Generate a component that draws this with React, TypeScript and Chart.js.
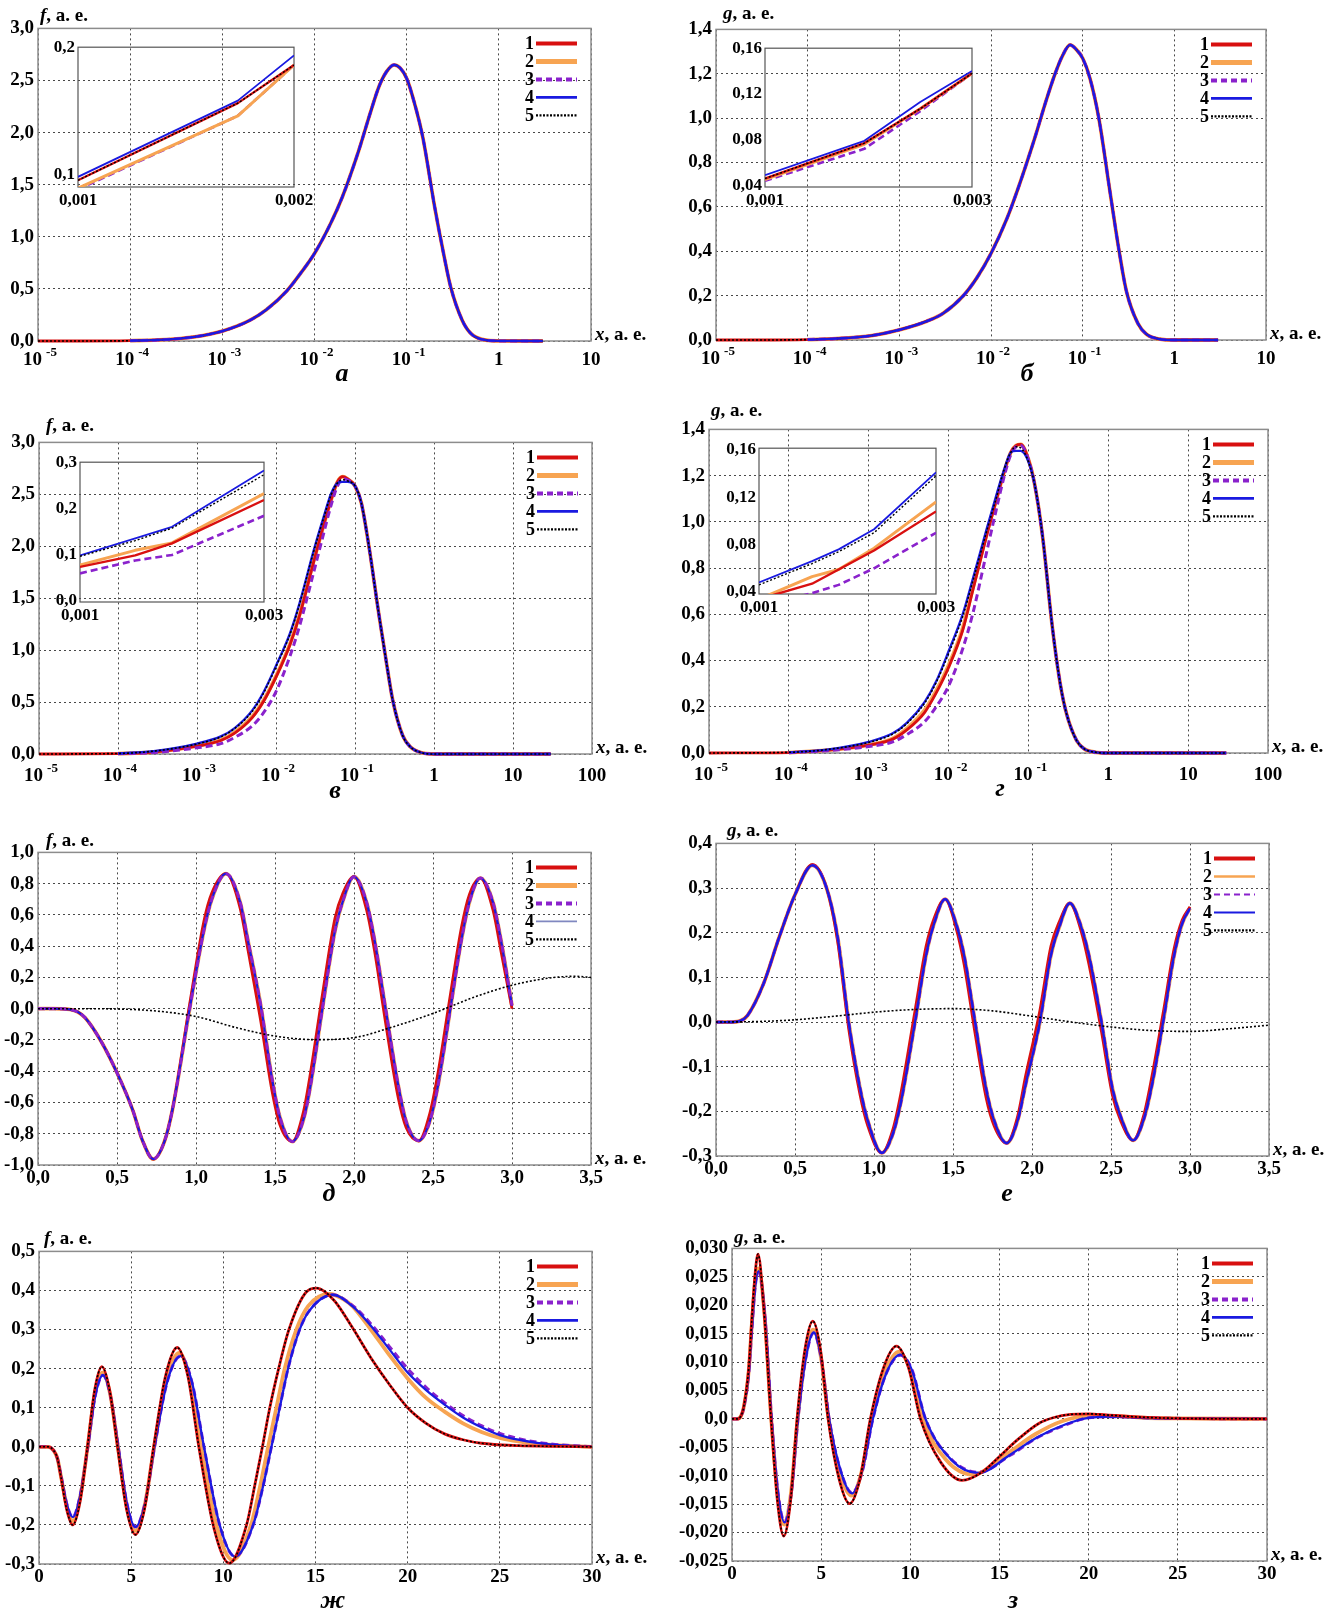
import React, { useEffect, useRef } from "react";
import { Chart, registerables } from "chart.js";
Chart.register(...registerables);

const FONT = '"Liberation Serif", "Times New Roman", serif';

// ================= DATA =================
// Panels а / б : log x, all five curves coincide in the main plot
const xAB = [1e-5, 3e-5, 1e-4, 2e-4, 5e-4, 1e-3, 2e-3, 3e-3, 5e-3, 7e-3, 1e-2, 1.5e-2, 2e-2, 3e-2, 4e-2, 5e-2, 6e-2, 7.3e-2, 8.5e-2, 0.1, 0.12, 0.15, 0.2, 0.25, 0.3, 0.4, 0.5, 0.7, 1, 3];
const fA = [0, 0, 0.003, 0.01, 0.04, 0.095, 0.2, 0.3, 0.48, 0.645, 0.84, 1.13, 1.38, 1.82, 2.18, 2.44, 2.58, 2.65, 2.62, 2.52, 2.3, 1.95, 1.3, 0.85, 0.52, 0.2, 0.07, 0.01, 0.001, 0];
const gB = [0, 0, 0.002, 0.006, 0.02, 0.046, 0.085, 0.12, 0.2, 0.28, 0.39, 0.55, 0.69, 0.91, 1.08, 1.2, 1.28, 1.33, 1.31, 1.27, 1.18, 1.0, 0.66, 0.4, 0.22, 0.075, 0.025, 0.004, 0, 0];

// Insets а / б
const xInA = [0.001, 0.00174, 0.002];
const fInA1 = [0.0953, 0.156, 0.186];
const fInA2 = [0.089, 0.146, 0.186];
const fInA3 = [0.088, 0.146, 0.186];
const fInA4 = [0.098, 0.158, 0.1935];
const fInA5 = [0.0953, 0.156, 0.186];
const xInB = [0.001, 0.00196, 0.0025, 0.003];
const gInB1 = [0.046, 0.077, 0.107, 0.138];
const gInB2 = [0.045, 0.076, 0.107, 0.138];
const gInB3 = [0.044, 0.072, 0.105, 0.138];
const gInB4 = [0.049, 0.079, 0.113, 0.14];
const gInB5 = [0.046, 0.077, 0.107, 0.138];

// Panels в / г : log x
const xCD = [1e-5, 1e-4, 3e-4, 1e-3, 2e-3, 3e-3, 5e-3, 7e-3, 1e-2, 1.5e-2, 2e-2, 3e-2, 4e-2, 5e-2, 6e-2, 7e-2, 8e-2, 0.1, 0.12, 0.15, 0.2, 0.25, 0.3, 0.4, 0.5, 0.7, 1, 3, 10, 30];
const fC1 = [0, 0.003, 0.02, 0.075, 0.13, 0.2, 0.35, 0.51, 0.74, 1.05, 1.34, 1.85, 2.2, 2.45, 2.62, 2.67, 2.65, 2.58, 2.42, 2.0, 1.35, 0.88, 0.52, 0.18, 0.07, 0.012, 0, 0, 0, 0];
const fC2 = [0, 0.003, 0.02, 0.078, 0.135, 0.21, 0.36, 0.52, 0.75, 1.06, 1.35, 1.86, 2.2, 2.45, 2.62, 2.67, 2.65, 2.58, 2.42, 2.0, 1.35, 0.88, 0.52, 0.18, 0.07, 0.012, 0, 0, 0, 0];
const fC3 = [0, 0.002, 0.015, 0.06, 0.1, 0.16, 0.27, 0.4, 0.6, 0.94, 1.24, 1.75, 2.12, 2.4, 2.58, 2.65, 2.64, 2.58, 2.42, 2.0, 1.35, 0.88, 0.52, 0.18, 0.07, 0.012, 0, 0, 0, 0];
const fC4 = [0, 0.005, 0.03, 0.1, 0.17, 0.25, 0.42, 0.6, 0.85, 1.16, 1.46, 1.96, 2.28, 2.51, 2.61, 2.62, 2.62, 2.58, 2.42, 2.0, 1.35, 0.88, 0.52, 0.18, 0.07, 0.012, 0, 0, 0, 0];
const fC5 = [0, 0.005, 0.03, 0.096, 0.165, 0.245, 0.41, 0.59, 0.84, 1.15, 1.45, 1.95, 2.27, 2.5, 2.61, 2.64, 2.63, 2.58, 2.42, 2.0, 1.35, 0.88, 0.52, 0.18, 0.07, 0.012, 0, 0, 0, 0];
const gD1 = [0, 0.002, 0.012, 0.034, 0.06, 0.1, 0.175, 0.26, 0.37, 0.53, 0.7, 0.94, 1.1, 1.22, 1.3, 1.33, 1.335, 1.27, 1.16, 0.94, 0.54, 0.3, 0.17, 0.055, 0.018, 0.003, 0, 0, 0, 0];
const gD2 = [0, 0.002, 0.012, 0.035, 0.063, 0.106, 0.185, 0.27, 0.38, 0.54, 0.71, 0.95, 1.1, 1.22, 1.3, 1.33, 1.335, 1.27, 1.16, 0.94, 0.54, 0.3, 0.17, 0.055, 0.018, 0.003, 0, 0, 0, 0];
const gD3 = [0, 0.0015, 0.01, 0.028, 0.048, 0.08, 0.135, 0.2, 0.29, 0.45, 0.6, 0.87, 1.06, 1.2, 1.29, 1.325, 1.33, 1.27, 1.16, 0.94, 0.54, 0.3, 0.17, 0.055, 0.018, 0.003, 0, 0, 0, 0];
const gD4 = [0, 0.003, 0.015, 0.048, 0.085, 0.13, 0.22, 0.31, 0.44, 0.6, 0.75, 0.97, 1.12, 1.23, 1.3, 1.307, 1.307, 1.26, 1.16, 0.94, 0.54, 0.3, 0.17, 0.055, 0.018, 0.003, 0, 0, 0, 0];
const gD5 = [0, 0.003, 0.015, 0.046, 0.082, 0.127, 0.215, 0.305, 0.43, 0.59, 0.74, 0.96, 1.11, 1.23, 1.3, 1.325, 1.32, 1.26, 1.16, 0.94, 0.54, 0.3, 0.17, 0.055, 0.018, 0.003, 0, 0, 0, 0];

// Insets в / г
const xInC = [0.001, 0.0016, 0.002, 0.003];
const fInC1 = [0.073, 0.098, 0.124, 0.218];
const fInC2 = [0.077, 0.109, 0.125, 0.232];
const fInC3 = [0.059, 0.087, 0.099, 0.184];
const fInC4 = [0.098, 0.135, 0.16, 0.282];
const fInC5 = [0.096, 0.13, 0.157, 0.273];
const xInD = [0.001, 0.0016, 0.0019, 0.0023, 0.003];
const gInD1 = [0.034, 0.047, 0.059, 0.075, 0.108];
const gInD2 = [0.034, 0.053, 0.059, 0.077, 0.116];
const gInD3 = [0.028, 0.039, 0.046, 0.06, 0.09];
const gInD4 = [0.048, 0.066, 0.076, 0.093, 0.141];
const gInD5 = [0.046, 0.064, 0.074, 0.09, 0.138];

// Panel д
const xE = [0, 0.1, 0.2, 0.25, 0.3, 0.4, 0.5, 0.6, 0.66, 0.73, 0.8, 0.85, 0.96, 1.05, 1.1, 1.19, 1.28, 1.33, 1.41, 1.48, 1.53, 1.61, 1.68, 1.72, 1.8, 1.88, 1.93, 2.0, 2.08, 2.13, 2.2, 2.28, 2.33, 2.41, 2.48, 2.53, 2.61, 2.68, 2.73, 2.8, 2.88, 2.93, 3.0];
const fE4 = [0, 0, -0.005, -0.02, -0.06, -0.21, -0.41, -0.65, -0.84, -0.962, -0.85, -0.65, 0, 0.5, 0.7, 0.864, 0.68, 0.43, 0.02, -0.44, -0.69, -0.85, -0.71, -0.52, 0, 0.5, 0.69, 0.845, 0.68, 0.44, 0, -0.49, -0.72, -0.845, -0.72, -0.5, 0, 0.44, 0.68, 0.836, 0.68, 0.44, 0.02];
const fE1 = [0, 0, -0.005, -0.02, -0.06, -0.21, -0.41, -0.65, -0.84, -0.962, -0.85, -0.65, 0.03, 0.56, 0.74, 0.864, 0.64, 0.37, -0.08, -0.52, -0.74, -0.85, -0.66, -0.44, 0.09, 0.58, 0.74, 0.845, 0.63, 0.37, -0.09, -0.57, -0.76, -0.845, -0.67, -0.42, 0.09, 0.52, 0.73, 0.836, 0.63, 0.37, 0.0];
const xE5 = [0, 0.25, 0.5, 0.75, 1.0, 1.25, 1.5, 1.75, 2.0, 2.25, 2.5, 2.75, 3.0, 3.25, 3.4, 3.5];
const fE5 = [0, 0, -0.002, -0.015, -0.05, -0.12, -0.175, -0.198, -0.185, -0.115, -0.03, 0.07, 0.15, 0.198, 0.207, 0.2];

// Panel е
const xF = [0, 0.1, 0.15, 0.2, 0.3, 0.4, 0.5, 0.61, 0.7, 0.77, 0.84, 0.91, 0.96, 1.05, 1.12, 1.17, 1.26, 1.33, 1.38, 1.45, 1.52, 1.57, 1.64, 1.71, 1.76, 1.84, 1.91, 1.96, 2.05, 2.12, 2.17, 2.24, 2.31, 2.36, 2.44, 2.51, 2.56, 2.64, 2.71, 2.76, 2.83, 2.9, 2.95, 3.0];
const gF4 = [0, 0, 0.002, 0.015, 0.085, 0.19, 0.285, 0.351, 0.3, 0.19, 0, -0.145, -0.22, -0.293, -0.25, -0.18, 0, 0.15, 0.22, 0.275, 0.22, 0.15, 0, -0.15, -0.22, -0.271, -0.22, -0.14, 0, 0.15, 0.21, 0.266, 0.215, 0.15, 0, -0.15, -0.21, -0.265, -0.215, -0.14, 0, 0.15, 0.22, 0.255];
const gF1 = [0, 0, 0.002, 0.015, 0.085, 0.19, 0.285, 0.353, 0.3, 0.18, -0.015, -0.16, -0.232, -0.293, -0.24, -0.16, 0.026, 0.17, 0.232, 0.275, 0.21, 0.13, -0.026, -0.17, -0.232, -0.271, -0.21, -0.12, 0.026, 0.17, 0.222, 0.266, 0.205, 0.13, -0.022, -0.165, -0.22, -0.265, -0.205, -0.12, 0.02, 0.165, 0.228, 0.258];
const xF5 = [0, 0.25, 0.5, 0.75, 1.0, 1.25, 1.5, 1.75, 2.0, 2.25, 2.5, 2.75, 3.0, 3.25, 3.5];
const gF5 = [0, 0.001, 0.005, 0.013, 0.022, 0.028, 0.03, 0.025, 0.013, 0, -0.011, -0.019, -0.021, -0.015, -0.007];

// Panel ж
const xG1 = [0, 0.5, 0.8, 1.0, 1.2, 1.5, 1.83, 2.23, 2.63, 3.02, 3.41, 3.83, 4.26, 4.75, 5.23, 5.72, 6.22, 6.86, 7.5, 8.08, 8.67, 9.5, 10.32, 11.26, 11.7, 12.12, 12.52, 13.0, 13.56, 14.5, 15.07, 16, 17, 18, 19, 20, 21, 22, 23, 24, 26, 28, 30];
const fG1 = [0, 0, -0.01, -0.03, -0.08, -0.16, -0.2, -0.14, 0, 0.145, 0.205, 0.145, 0, -0.16, -0.225, -0.16, 0, 0.18, 0.254, 0.18, 0, -0.21, -0.298, -0.2, -0.1, 0, 0.1, 0.2, 0.3, 0.396, 0.406, 0.375, 0.305, 0.228, 0.16, 0.1, 0.06, 0.033, 0.018, 0.009, 0.003, 0.001, 0];
const xG2 = [0, 0.5, 0.8, 1.0, 1.2, 1.5, 1.83, 2.23, 2.64, 3.03, 3.44, 3.86, 4.28, 4.75, 5.23, 5.73, 6.25, 6.9, 7.6, 8.2, 8.8, 9.65, 10.5, 11.5, 12.0, 12.43, 12.88, 13.33, 13.96, 14.6, 15.76, 16.5, 17, 18, 19, 20, 21, 22, 23, 24, 25, 26, 28, 30];
const fG2 = [0, 0, -0.01, -0.03, -0.078, -0.15, -0.19, -0.13, 0, 0.135, 0.19, 0.135, 0, -0.15, -0.215, -0.15, 0, 0.17, 0.24, 0.17, 0, -0.205, -0.29, -0.2, -0.1, 0, 0.1, 0.2, 0.3, 0.36, 0.391, 0.378, 0.36, 0.3, 0.235, 0.175, 0.125, 0.09, 0.06, 0.038, 0.023, 0.014, 0.004, 0];
const xG4 = [0, 0.5, 0.8, 1.0, 1.2, 1.5, 1.83, 2.23, 2.65, 3.05, 3.47, 3.88, 4.3, 4.77, 5.23, 5.75, 6.27, 6.95, 7.68, 8.3, 8.95, 9.8, 10.63, 11.62, 12.16, 12.61, 13.06, 13.51, 14.14, 14.68, 15.94, 17, 18, 19, 20, 21, 22, 23, 24, 25, 26, 27, 28, 30];
const fG4 = [0, 0, -0.01, -0.03, -0.075, -0.145, -0.18, -0.125, 0, 0.13, 0.183, 0.13, 0, -0.145, -0.205, -0.145, 0, 0.165, 0.232, 0.165, 0, -0.2, -0.281, -0.2, -0.1, 0, 0.1, 0.2, 0.3, 0.349, 0.389, 0.36, 0.31, 0.25, 0.19, 0.145, 0.108, 0.075, 0.05, 0.03, 0.018, 0.01, 0.005, 0];
const fG3 = [0, 0, -0.01, -0.03, -0.075, -0.145, -0.18, -0.125, 0, 0.13, 0.183, 0.13, 0, -0.145, -0.205, -0.145, 0, 0.165, 0.232, 0.165, 0, -0.2, -0.281, -0.2, -0.1, 0, 0.1, 0.2, 0.3, 0.349, 0.389, 0.362, 0.315, 0.257, 0.2, 0.152, 0.113, 0.08, 0.054, 0.034, 0.021, 0.012, 0.006, 0];

// Panel з
const xH1 = [0, 0.3, 0.5, 0.65, 0.94, 1.12, 1.31, 1.46, 1.78, 2.19, 2.55, 2.9, 3.28, 3.65, 4.09, 4.53, 4.96, 5.39, 6.0, 6.6, 7.18, 7.76, 8.5, 9.22, 9.9, 10.57, 11.7, 12.9, 14.0, 15.0, 16.0, 17.2, 18.0, 19.0, 20.0, 21.0, 23.0, 25.0, 30.0];
const gH1 = [0, 0, 0.0005, 0.002, 0.009, 0.018, 0.026, 0.029, 0.0196, 0, -0.0145, -0.0206, -0.0145, 0, 0.0122, 0.0172, 0.0122, 0, -0.0105, -0.0149, -0.0105, 0, 0.009, 0.0128, 0.009, 0, -0.0076, -0.0108, -0.0094, -0.0066, -0.0037, -0.0008, 0.0002, 0.0008, 0.0009, 0.0007, 0.0003, 0.0001, 0];
const xH2 = [0, 0.3, 0.5, 0.65, 0.94, 1.12, 1.31, 1.48, 1.82, 2.2, 2.56, 2.93, 3.3, 3.68, 4.12, 4.55, 4.98, 5.42, 6.05, 6.7, 7.25, 7.83, 8.58, 9.35, 10.0, 10.7, 12.0, 13.5, 15.3, 17.0, 18.5, 20, 21.5, 23, 25, 30];
const gH2 = [0, 0, 0.0005, 0.0019, 0.0085, 0.017, 0.0245, 0.0265, 0.0185, 0, -0.0132, -0.0186, -0.0132, 0, 0.011, 0.0157, 0.011, 0, -0.0095, -0.0135, -0.0095, 0, 0.0083, 0.0118, 0.0085, 0, -0.0072, -0.0098, -0.0064, -0.0027, -0.0004, 0.0005, 0.0005, 0.0002, 0.0001, 0];
const xH4 = [0, 0.3, 0.5, 0.65, 0.94, 1.12, 1.31, 1.5, 1.85, 2.22, 2.58, 2.95, 3.33, 3.7, 4.14, 4.58, 5.0, 5.45, 6.1, 6.73, 7.3, 7.9, 8.65, 9.44, 10.1, 10.85, 12.3, 13.84, 15.6, 17.07, 18.75, 20, 21.5, 23, 25, 30];
const gH4 = [0, 0, 0.0005, 0.0018, 0.008, 0.016, 0.0235, 0.026, 0.018, 0, -0.013, -0.0182, -0.013, 0, 0.0107, 0.0152, 0.0107, 0, -0.0092, -0.0131, -0.0092, 0, 0.008, 0.0113, 0.0085, 0, -0.0072, -0.0095, -0.0063, -0.0033, -0.0009, 0.0002, 0.0004, 0.0002, 0.0001, 0];
const gH3 = [0, 0, 0.0005, 0.0018, 0.008, 0.016, 0.0235, 0.0258, 0.018, 0, -0.013, -0.0181, -0.013, 0, 0.0107, 0.0151, 0.0107, 0, -0.0092, -0.013, -0.0093, 0, 0.008, 0.0112, 0.0086, 0, -0.0071, -0.0094, -0.0064, -0.0034, -0.001, 0.0002, 0.0004, 0.0002, 0.0001, 0];

// Tick values
const XT_LOG6 = [1e-5, 1e-4, 1e-3, 1e-2, 1e-1, 1, 10];
const XT_LOG7 = [1e-5, 1e-4, 1e-3, 1e-2, 1e-1, 1, 10, 100];
const XT_E = [0, 0.5, 1, 1.5, 2, 2.5, 3, 3.5];
const XT_G = [0, 5, 10, 15, 20, 25, 30];
const YT_A = [0, 0.5, 1, 1.5, 2, 2.5, 3];
const YT_B = [0, 0.2, 0.4, 0.6, 0.8, 1, 1.2, 1.4];
const YT_D = [-1, -0.8, -0.6, -0.4, -0.2, 0, 0.2, 0.4, 0.6, 0.8, 1];
const YT_E = [-0.3, -0.2, -0.1, 0, 0.1, 0.2, 0.3, 0.4];
const YT_G = [-0.3, -0.2, -0.1, 0, 0.1, 0.2, 0.3, 0.4, 0.5];
const YT_H = [-0.025, -0.02, -0.015, -0.01, -0.005, 0, 0.005, 0.01, 0.015, 0.02, 0.025, 0.03];
const XT_IN_A = [0.001, 0.002];
const XT_IN = [0.001, 0.003];
const YT_IN_A = [0.1, 0.2];
const YT_IN_B = [0.04, 0.08, 0.12, 0.16];
const YT_IN_C = [0, 0.1, 0.2, 0.3];

// ================= STYLE =================
const COLORS: Record<number, string> = { 1: "#d81010", 2: "#f7a452", 3: "#8a22cc", 4: "#1a1ae0", 5: "#000000" };
const MAIN_W: Record<number, number> = { 1: 2.8, 2: 3.8, 3: 3, 4: 2.3, 5: 1.6 };
const INSET_W: Record<number, number> = { 1: 2.4, 2: 3, 3: 2.6, 4: 1.8, 5: 1.4 };
const DASH: Record<number, number[]> = { 1: [], 2: [], 3: [7, 4], 4: [], 5: [2, 2] };
const LEG_W: Record<number, number> = { 1: 4, 2: 5, 3: 4, 4: 2.6, 5: 2.2 };

const fmt = (d: number) => (v: number) => {
  if (Math.abs(v) < 1e-12) return d >= 3 ? "0,0" : (0).toFixed(d).replace(".", ",");
  return v.toFixed(d).replace(".", ",");
};

type Ser = { k: number; x: number[]; y: number[] };
type Spec = {
  l: number; t: number; r: number; b: number;
  log: boolean; xMin: number; xMax: number; xTicks: number[]; xFmt: (v: number) => string;
  yMin: number; yMax: number; yTicks: number[]; yFmt: (v: number) => string;
  series: Ser[]; inset: boolean; logDy?: number;
  legendOver?: Record<number, { color: string; w: number }>;
};

const PAD_MAIN = { L: 80, T: 14, R: 30, B: 36 };
const PAD_INSET = { L: 50, T: 12, R: 26, B: 28 };

function buildConfig(s: Spec): any {
  const P = s.inset ? PAD_INSET : PAD_MAIN;
  const W = s.inset ? INSET_W : MAIN_W;
  const datasets = s.series.map((se) => ({
    data: se.x.map((xv, i) => ({ x: xv, y: se.y[i] })),
    borderColor: COLORS[se.k],
    borderWidth: W[se.k],
    borderDash: DASH[se.k],
    borderJoinStyle: "round",
    pointRadius: 0,
    fill: false,
    tension: 0,
    cubicInterpolationMode: s.inset ? "default" : "monotone",
    clip: s.inset ? 0 : 3,
  }));
  const tickFont = { family: FONT, size: s.inset ? 17 : 19, weight: "bold" as const };
  const deco = {
    id: "deco",
    beforeDatasetsDraw(chart: any) {
      const { ctx, chartArea: a } = chart;
      ctx.save();
      ctx.setLineDash([]);
      ctx.strokeStyle = s.inset ? "#555" : "#8c8c8c";
      ctx.lineWidth = s.inset ? 1.2 : 1.5;
      ctx.strokeRect(a.left, a.top, a.right - a.left, a.bottom - a.top);
      ctx.restore();
    },
    afterDraw(chart: any) {
      const { ctx, chartArea: a, scales } = chart;
      ctx.save();
      ctx.fillStyle = "#000";
      if (s.log) {
        const base = a.bottom + (s.logDy ?? 24);
        for (const v of s.xTicks) {
          const px = scales.x.getPixelForValue(v);
          const e = Math.round(Math.log10(v));
          if (e < 0) {
            ctx.font = `bold 19px ${FONT}`;
            const w1 = ctx.measureText("10").width;
            ctx.font = `bold 13px ${FONT}`;
            const es = String(e);
            const w2 = ctx.measureText(es).width;
            const x0 = px - (w1 + 4 + w2) / 2 + 2;
            ctx.textAlign = "left";
            ctx.textBaseline = "alphabetic";
            ctx.font = `bold 19px ${FONT}`;
            ctx.fillText("10", x0, base);
            ctx.font = `bold 13px ${FONT}`;
            ctx.fillText(es, x0 + w1 + 4, base - 9);
          } else {
            ctx.font = `bold 19px ${FONT}`;
            ctx.textAlign = "center";
            ctx.textBaseline = "alphabetic";
            ctx.fillText(String(v), px, base);
          }
        }
      }
      if (!s.inset) {
        for (let k = 1; k <= 5; k++) {
          const y = a.top + 15 + (k - 1) * 18;
          ctx.font = `bold 18px ${FONT}`;
          ctx.textAlign = "right";
          ctx.textBaseline = "middle";
          ctx.fillStyle = "#000";
          ctx.fillText(String(k), a.right - 57, y + 1);
          const ov = s.legendOver && s.legendOver[k];
          ctx.beginPath();
          ctx.strokeStyle = ov ? ov.color : COLORS[k];
          ctx.lineWidth = ov ? ov.w : LEG_W[k];
          ctx.setLineDash(k === 3 ? [6, 4] : k === 5 ? [2, 1.5] : []);
          ctx.moveTo(a.right - 55, y);
          ctx.lineTo(a.right - 14, y);
          ctx.stroke();
        }
      }
      ctx.restore();
    },
  };
  return {
    type: "line",
    data: { datasets },
    options: {
      responsive: false,
      animation: false,
      events: [],
      layout: { padding: { top: P.T, right: P.R, left: 0, bottom: 0 } },
      plugins: { legend: { display: false }, tooltip: { enabled: false }, title: { display: false } },
      scales: {
        x: {
          type: s.log ? "logarithmic" : "linear",
          min: s.xMin,
          max: s.xMax,
          afterFit: (sc: any) => { sc.height = P.B; },
          afterBuildTicks: (sc: any) => { sc.ticks = s.xTicks.map((v) => ({ value: v })); },
          grid: { display: !s.inset, drawTicks: false, color: "rgba(40,40,40,0.85)", lineWidth: 1 },
          border: { display: false, dash: [2, 3] },
          ticks: {
            display: !s.log,
            padding: s.inset ? 3 : 2,
            autoSkip: false,
            maxRotation: 0,
            color: "#000",
            font: tickFont,
            callback: (v: any) => s.xFmt(Number(v)),
          },
        },
        y: {
          type: "linear",
          min: s.yMin,
          max: s.yMax,
          afterFit: (sc: any) => { sc.width = P.L; },
          afterBuildTicks: (sc: any) => { sc.ticks = s.yTicks.map((v) => ({ value: v })); },
          grid: { display: !s.inset, drawTicks: false, color: "rgba(40,40,40,0.85)", lineWidth: 1 },
          border: { display: false, dash: [2, 3] },
          ticks: {
            padding: s.inset ? 3 : 4,
            autoSkip: false,
            color: "#000",
            font: tickFont,
            callback: (v: any) => s.yFmt(Number(v)),
          },
        },
      },
    },
    plugins: [deco],
  };
}

function ChartBox({ s }: { s: Spec }) {
  const ref = useRef<HTMLCanvasElement>(null);
  const P = s.inset ? PAD_INSET : PAD_MAIN;
  const w = s.r - s.l + P.L + P.R;
  const h = s.b - s.t + P.T + P.B;
  useEffect(() => {
    const c = new Chart(ref.current as HTMLCanvasElement, buildConfig(s));
    return () => c.destroy();
  }, []);
  return (
    <canvas
      ref={ref}
      width={w}
      height={h}
      style={{ position: "absolute", left: s.l - P.L, top: s.t - P.T, width: w, height: h }}
    />
  );
}

// ================= PANELS =================
const cut = (a: number[], n: number) => a.slice(n);

const panels: { s: Spec; yName: string; tx: number; ty: number; letter: string; lx: number; ly: number }[] = [
  {
    s: {
      l: 38, t: 27, r: 591, b: 341, log: true, xMin: 1e-5, xMax: 10, xTicks: XT_LOG6, xFmt: String,
      yMin: 0, yMax: 3, yTicks: YT_A, yFmt: fmt(1), inset: false, logDy: 24,
      series: [
        { k: 4, x: cut(xAB, 2), y: cut(fA, 2) },
        { k: 3, x: cut(xAB, 2), y: cut(fA, 2) },
        { k: 5, x: xAB, y: fA },
        { k: 1, x: xAB, y: fA },
        { k: 2, x: cut(xAB, 2), y: cut(fA, 2) },
      ],
    },
    yName: "f", tx: 40, ty: 15, letter: "а", lx: 342, ly: 373,
  },
  {
    s: {
      l: 716, t: 28, r: 1266, b: 340, log: true, xMin: 1e-5, xMax: 10, xTicks: XT_LOG6, xFmt: String,
      yMin: 0, yMax: 1.4, yTicks: YT_B, yFmt: fmt(1), inset: false, logDy: 24,
      series: [
        { k: 4, x: cut(xAB, 2), y: cut(gB, 2) },
        { k: 3, x: cut(xAB, 2), y: cut(gB, 2) },
        { k: 5, x: xAB, y: gB },
        { k: 1, x: xAB, y: gB },
        { k: 2, x: cut(xAB, 2), y: cut(gB, 2) },
      ],
    },
    yName: "g", tx: 723, ty: 13, letter: "б", lx: 1027, ly: 373,
  },
  {
    s: {
      l: 39, t: 441, r: 592, b: 754, log: true, xMin: 1e-5, xMax: 100, xTicks: XT_LOG7, xFmt: String,
      yMin: 0, yMax: 3, yTicks: YT_A, yFmt: fmt(1), inset: false, logDy: 27,
      series: [
        { k: 5, x: xCD, y: fC5 },
        { k: 4, x: cut(xCD, 1), y: cut(fC4, 1) },
        { k: 3, x: cut(xCD, 1), y: cut(fC3, 1) },
        { k: 1, x: xCD, y: fC1 },
        { k: 2, x: cut(xCD, 1), y: cut(fC2, 1) },
      ],
    },
    yName: "f", tx: 46, ty: 425, letter: "в", lx: 335, ly: 790,
  },
  {
    s: {
      l: 709, t: 428, r: 1268, b: 753, log: true, xMin: 1e-5, xMax: 100, xTicks: XT_LOG7, xFmt: String,
      yMin: 0, yMax: 1.4, yTicks: YT_B, yFmt: fmt(1), inset: false, logDy: 27,
      series: [
        { k: 5, x: xCD, y: gD5 },
        { k: 4, x: cut(xCD, 1), y: cut(gD4, 1) },
        { k: 3, x: cut(xCD, 1), y: cut(gD3, 1) },
        { k: 1, x: xCD, y: gD1 },
        { k: 2, x: cut(xCD, 1), y: cut(gD2, 1) },
      ],
    },
    yName: "g", tx: 711, ty: 410, letter: "г", lx: 1000, ly: 788,
  },
  {
    s: {
      l: 38, t: 851, r: 591, b: 1165, log: false, xMin: 0, xMax: 3.5, xTicks: XT_E, xFmt: fmt(1),
      yMin: -1, yMax: 1, yTicks: YT_D, yFmt: fmt(1), inset: false,
      legendOver: { 4: { color: "#8088c0", w: 1.6 } },
      series: [
        { k: 5, x: xE5, y: fE5 },
        { k: 3, x: xE, y: fE4 },
        { k: 4, x: xE, y: fE4 },
        { k: 1, x: xE, y: fE1 },
        { k: 2, x: xE, y: fE4 },
      ],
    },
    yName: "f", tx: 46, ty: 840, letter: "д", lx: 329, ly: 1193,
  },
  {
    s: {
      l: 716, t: 842, r: 1269, b: 1156, log: false, xMin: 0, xMax: 3.5, xTicks: XT_E, xFmt: fmt(1),
      yMin: -0.3, yMax: 0.4, yTicks: YT_E, yFmt: fmt(1), inset: false,
      legendOver: { 2: { color: COLORS[2], w: 2.5 }, 3: { color: COLORS[3], w: 2 }, 4: { color: COLORS[4], w: 2 } },
      series: [
        { k: 5, x: xF5, y: gF5 },
        { k: 4, x: xF, y: gF4 },
        { k: 3, x: xF, y: gF4 },
        { k: 1, x: xF, y: gF1 },
        { k: 2, x: xF, y: gF4 },
      ],
    },
    yName: "g", tx: 727, ty: 830, letter: "е", lx: 1007, ly: 1193,
  },
  {
    s: {
      l: 39, t: 1250, r: 592, b: 1564, log: false, xMin: 0, xMax: 30, xTicks: XT_G, xFmt: fmt(0),
      yMin: -0.3, yMax: 0.5, yTicks: YT_G, yFmt: fmt(1), inset: false,
      series: [
        { k: 5, x: xG1, y: fG1 },
        { k: 1, x: xG1, y: fG1 },
        { k: 4, x: xG4, y: fG4 },
        { k: 3, x: xG4, y: fG3 },
        { k: 2, x: xG2, y: fG2 },
      ],
    },
    yName: "f", tx: 44, ty: 1238, letter: "ж", lx: 333, ly: 1600,
  },
  {
    s: {
      l: 732, t: 1247, r: 1267, b: 1561, log: false, xMin: 0, xMax: 30, xTicks: XT_G, xFmt: fmt(0),
      yMin: -0.025, yMax: 0.03, yTicks: YT_H, yFmt: fmt(3), inset: false,
      series: [
        { k: 5, x: xH1, y: gH1 },
        { k: 1, x: xH1, y: gH1 },
        { k: 4, x: xH4, y: gH4 },
        { k: 3, x: xH4, y: gH3 },
        { k: 2, x: xH2, y: gH2 },
      ],
    },
    yName: "g", tx: 734, ty: 1237, letter: "з", lx: 1013, ly: 1600,
  },
];

const insetOrder = (x: number[], ys: number[][]): Ser[] =>
  [5, 4, 1, 2, 3].map((k) => ({ k, x, y: ys[k - 1] }));

const insets: Spec[] = [
  {
    l: 78, t: 46, r: 294, b: 187, log: false, xMin: 0.001, xMax: 0.002, xTicks: XT_IN_A, xFmt: fmt(3),
    yMin: 0.09, yMax: 0.2, yTicks: YT_IN_A, yFmt: fmt(1), inset: true,
    series: insetOrder(xInA, [fInA1, fInA2, fInA3, fInA4, fInA5]),
  },
  {
    l: 765, t: 47, r: 972, b: 187, log: false, xMin: 0.001, xMax: 0.003, xTicks: XT_IN, xFmt: fmt(3),
    yMin: 0.0386, yMax: 0.16, yTicks: YT_IN_B, yFmt: fmt(2), inset: true,
    series: insetOrder(xInB, [gInB1, gInB2, gInB3, gInB4, gInB5]),
  },
  {
    l: 80, t: 461, r: 264, b: 602, log: false, xMin: 0.001, xMax: 0.003, xTicks: XT_IN, xFmt: fmt(3),
    yMin: -0.003, yMax: 0.3, yTicks: YT_IN_C, yFmt: fmt(1), inset: true,
    series: insetOrder(xInC, [fInC1, fInC2, fInC3, fInC4, fInC5]),
  },
  {
    l: 759, t: 447, r: 936, b: 594, log: false, xMin: 0.001, xMax: 0.003, xTicks: XT_IN, xFmt: fmt(3),
    yMin: 0.0383, yMax: 0.1614, yTicks: YT_IN_B, yFmt: fmt(2), inset: true,
    series: insetOrder(xInD, [gInD1, gInD2, gInD3, gInD4, gInD5]),
  },
];

const txt: React.CSSProperties = { position: "absolute", fontFamily: FONT, fontWeight: "bold", whiteSpace: "nowrap", color: "#000" };

export default function App() {
  return (
    <div style={{ position: "absolute", left: 0, top: 0, width: 1337, height: 1613, background: "#fff", overflow: "hidden" }}>
      {panels.map((p, i) => (
        <ChartBox key={"p" + i} s={p.s} />
      ))}
      {insets.map((s, i) => (
        <ChartBox key={"i" + i} s={s} />
      ))}
      {panels.map((p, i) => (
        <React.Fragment key={"t" + i}>
          <div style={{ ...txt, left: p.tx, top: p.ty - 11, fontSize: 19, lineHeight: "22px" }}>
            <i>{p.yName}</i>, а. е.
          </div>
          <div style={{ ...txt, left: p.s.r + 4, top: p.s.b - 18, fontSize: 19, lineHeight: "22px" }}>
            <i>x</i>, а. е.
          </div>
          <div
            style={{
              ...txt,
              left: p.lx,
              top: p.ly,
              fontSize: 26,
              fontStyle: "italic",
              lineHeight: "30px",
              transform: "translate(-50%, -50%)",
            }}
          >
            {p.letter}
          </div>
        </React.Fragment>
      ))}
    </div>
  );
}
